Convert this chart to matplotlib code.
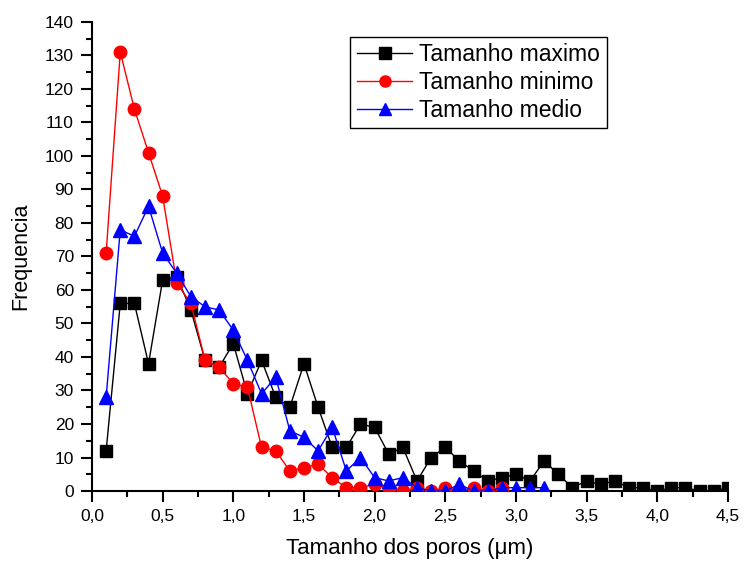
import matplotlib.pyplot as plt
from matplotlib.ticker import MultipleLocator, FuncFormatter

plt.rcParams['font.family'] = ['Liberation Sans', 'DejaVu Sans']

# pore size classes (um)
x_max = [round(0.1 * i, 1) for i in range(1, 46)]
y_max = [12, 56, 56, 38, 63, 64, 54, 39, 37, 44,
         29, 39, 28, 25, 38, 25, 13, 13, 20, 19,
         11, 13, 3, 10, 13, 9, 6, 3, 4, 5,
         3, 9, 5, 1, 3, 2, 3, 1, 1, 0,
         1, 1, 0, 0, 1]

x_min = [round(0.1 * i, 1) for i in range(1, 30)]
y_min = [71, 131, 114, 101, 88, 62, 56, 39, 37, 32,
         31, 13, 12, 6, 7, 8, 4, 1, 1, 2,
         1, 0, 1, 0, 1, 0, 1, 0, 1]

x_med = [round(0.1 * i, 1) for i in range(1, 33)]
y_med = [28, 78, 76, 85, 71, 65, 58, 55, 54, 48,
         39, 29, 34, 18, 16, 12, 19, 6, 10, 4,
         3, 4, 1, 0, 0, 2, 0, 0, 1, 1,
         1, 1]

fig = plt.figure(figsize=(7.45, 5.62), dpi=100)
ax = fig.add_axes([0.1235, 0.1263, 0.8535, 0.8347])

ax.plot(x_max, y_max, color='black', lw=1, marker='s', ms=8.3, mec='black', mfc='black', label='Tamanho maximo', zorder=2)
ax.plot(x_min, y_min, color='red', lw=1, marker='o', ms=9, mec='red', mfc='red', label='Tamanho minimo', zorder=3)
ax.plot(x_med, y_med, color='blue', lw=1, marker='^', ms=9.8, mec='blue', mfc='blue', label='Tamanho medio', zorder=4)

ax.set_xlim(0, 4.5)
ax.set_ylim(0, 140)
ax.xaxis.set_major_locator(MultipleLocator(0.5))
ax.xaxis.set_minor_locator(MultipleLocator(0.25))
ax.yaxis.set_major_locator(MultipleLocator(10))
ax.yaxis.set_minor_locator(MultipleLocator(5))
ax.xaxis.set_major_formatter(FuncFormatter(lambda v, p: f'{v:.1f}'.replace('.', ',')))

for s in ['top', 'right']:
    ax.spines[s].set_visible(False)
for s in ['left', 'bottom']:
    ax.spines[s].set_linewidth(1.5)

ax.tick_params(which='major', direction='out', length=8, width=1.5, labelsize=12.5, pad=5)
ax.tick_params(which='minor', direction='out', length=4.5, width=1.5)

ax.set_xlabel('Tamanho dos poros (\u03bcm)', fontsize=16, labelpad=10)
ax.set_ylabel('Frequencia', fontsize=15.5, labelpad=10)

leg = ax.legend(loc='upper left', bbox_to_anchor=(0.47, 0.935), bbox_transform=fig.transFigure,
                fontsize=16.5, numpoints=1, handlelength=2.4, handletextpad=0.3,
                labelspacing=0.2, borderpad=0.3, borderaxespad=0, fancybox=False, framealpha=1)
leg.get_frame().set_edgecolor('black')
leg.get_frame().set_linewidth(1)
for h in leg.legend_handles:
    h.set_markersize(8)

fig.savefig('out.png', dpi=100)
